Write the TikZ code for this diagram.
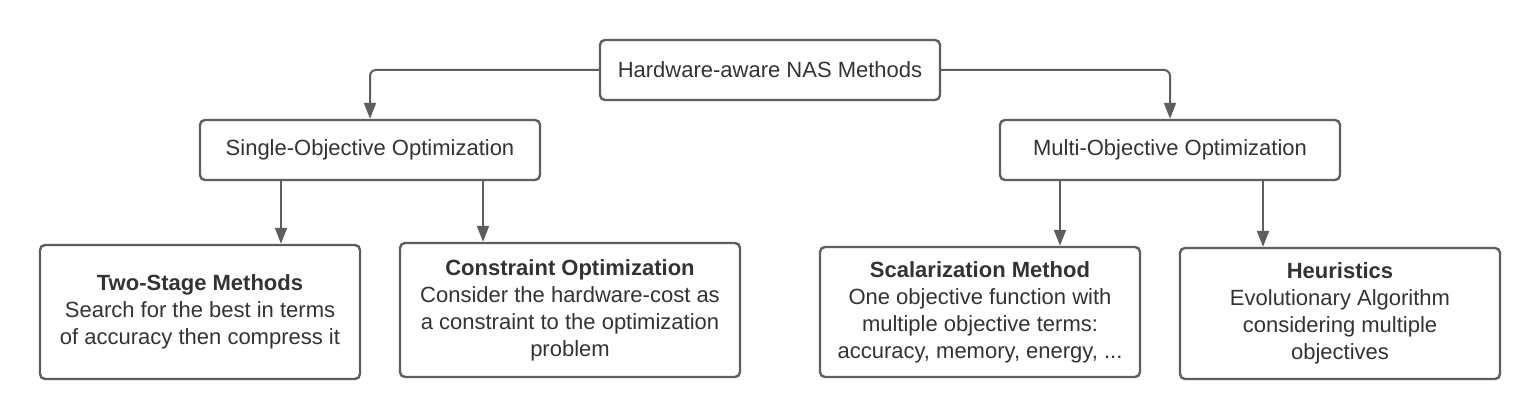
\documentclass[tikz,border=0pt]{standalone}
\usepackage{fontspec}
\setmainfont{Liberation Sans}
\usetikzlibrary{arrows.meta}
\definecolor{linegray}{HTML}{5E5E5E}
\definecolor{textgray}{HTML}{333333}
\begin{document}
\begin{tikzpicture}[x=1pt,y=-1pt,
  box/.style={draw=linegray, line width=2.4pt, rounded corners=5pt, fill=white,
    text=textgray, align=center, inner sep=0pt,
    font=\fontsize{22}{27}\selectfont},
  arr/.style={draw=linegray, line width=2pt, rounded corners=6pt,
    -{Triangle[length=16pt,width=12pt]}}]
\useasboundingbox[fill=white] (0,0) rectangle (1540,419);
\node[box, minimum width=340pt, minimum height=60pt] (top) at (770,70) {Hardware-aware NAS Methods};
\node[box, minimum width=340pt, minimum height=60pt] (single) at (370,150) {Single-Objective Optimization};
\node[box, minimum width=340pt, minimum height=60pt] (multi) at (1170,150) {Multi-Objective Optimization};
\node[box, minimum width=320pt, minimum height=134pt] (two) at (200,312)
  {\textbf{Two-Stage Methods}\\Search for the best in terms\\of accuracy then compress it};
\node[box, minimum width=340pt, minimum height=134pt] (cons) at (570,310)
  {\textbf{Constraint Optimization}\\Consider the hardware-cost as\\a constraint to the optimization\\problem};
\node[box, minimum width=320pt, minimum height=130pt] (scal) at (980,312)
  {\textbf{Scalarization Method}\\One objective function with\\multiple objective terms:\\accuracy, memory, energy, ...};
\node[box, minimum width=320pt, minimum height=131pt] (heur) at (1340,313.5)
  {\textbf{Heuristics}\\Evolutionary Algorithm\\considering multiple\\objectives};
\draw[arr] (top.west) -| (single.north);
\draw[arr] (top.east) -| (multi.north);
\draw[arr] ([xshift=-89pt]single.south) -- ([xshift=-89pt]single.south |- two.north);
\draw[arr] ([xshift=113pt]single.south) -- ([xshift=113pt]single.south |- cons.north);
\draw[arr] ([xshift=-110pt]multi.south) -- ([xshift=-110pt]multi.south |- scal.north);
\draw[arr] ([xshift=93pt]multi.south) -- ([xshift=93pt]multi.south |- heur.north);
\end{tikzpicture}
\end{document}
